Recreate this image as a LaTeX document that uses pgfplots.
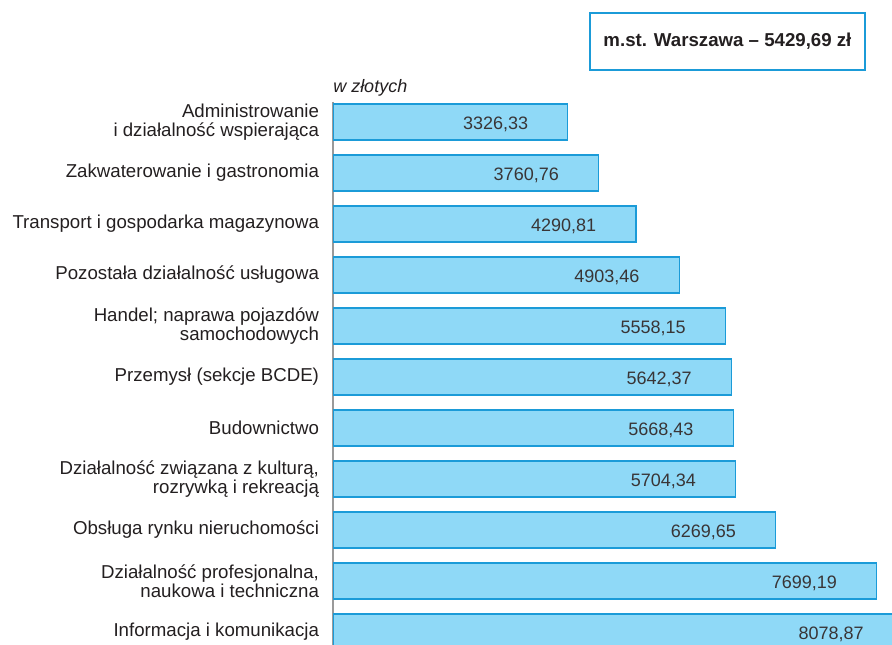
\documentclass[border=0pt]{standalone}
\usepackage{pgfplots}
\pgfplotsset{compat=1.18}
\usepackage{fontspec}
\setmainfont{Liberation Sans}
\definecolor{barfill}{HTML}{8FD9F7}
\definecolor{barline}{HTML}{1B9BD8}
\definecolor{txt}{HTML}{231F20}
\definecolor{axgray}{HTML}{9A9A9A}

\begin{document}
\begin{tikzpicture}
% page = 892x644 px, 1 px = 0.75pt
\useasboundingbox (0pt,0pt) rectangle (669pt,-483pt);
\clip (0pt,0pt) rectangle (669pt,-483pt);

\node[draw=barline, line width=1.4pt, minimum width=206pt, minimum height=42.75pt,
  font=\fontsize{14}{16}\selectfont\bfseries, text=txt, inner sep=0pt]
  at (545.6pt,-31.1pt) {m.st. Warszawa -- 5429,69 zł};
\node[anchor=west, inner sep=0pt, font=\fontsize{13.5}{16}\selectfont\itshape, text=txt]
  at (249.75pt,-66pt) {w złotych};

\begin{axis}[
  at={(249.75pt,-76.2pt)}, anchor=north west,
  scale only axis, width=428.9pt, height=413.1pt,
  xbar, bar width=27pt,
  xmin=0, xmax=8100, ymin=-0.4, ymax=10.4, y dir=reverse,
  axis x line=none, axis y line=left,
  axis line style={-, draw=axgray, line width=1.5pt},
  ytick={0,...,10}, major tick length=0pt,
  yticklabels={
    {Administrowanie\\i działalność wspierająca},
    {Zakwaterowanie i gastronomia},
    {Transport i gospodarka magazynowa},
    {Pozostała działalność usługowa},
    {Handel; naprawa pojazdów\\samochodowych},
    {Przemysł (sekcje BCDE)},
    {Budownictwo},
    {Działalność związana z kulturą,\\rozrywką i rekreacją},
    {Obsługa rynku nieruchomości},
    {Działalność profesjonalna,\\naukowa i techniczna},
    {Informacja i komunikacja}},
  yticklabel style={align=right, text=txt, xshift=-7pt,
    font=\fontsize{14}{14.25}\selectfont},
  nodes near coords, point meta=x,
  nodes near coords style={anchor=east, xshift=-26pt, yshift=-1.5pt,
    text=txt!90, font=\fontsize{13.5}{16}\selectfont},
  /pgf/number format/use comma,
  /pgf/number format/fixed,
  /pgf/number format/fixed zerofill,
  /pgf/number format/precision=2,
  /pgf/number format/1000 sep={},
  /pgf/number format/assume math mode=true,
]
\addplot[fill=barfill, draw=barline, line width=0.9pt] coordinates {
  (3326.33,0) (3760.76,1) (4290.81,2) (4903.46,3) (5558.15,4) (5642.37,5)
  (5668.43,6) (5704.34,7) (6269.65,8) (7699.19,9) (8078.87,10)};
\end{axis}
\end{tikzpicture}
\end{document}
